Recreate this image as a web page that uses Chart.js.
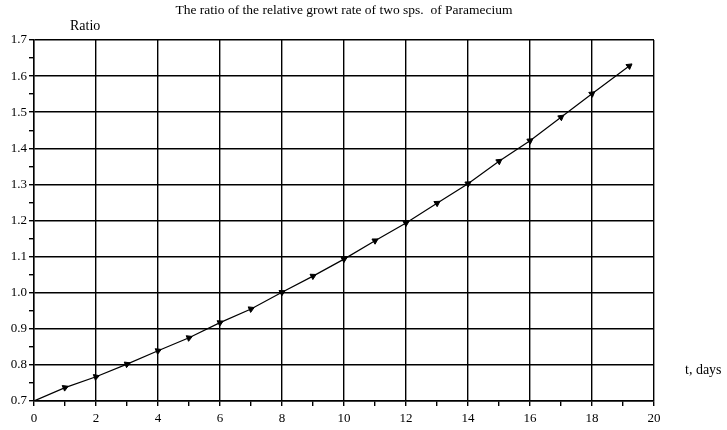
<!DOCTYPE html>
<html>
<head>
<meta charset="utf-8">
<script src="https://cdn.jsdelivr.net/npm/chart.js@4.4.1/dist/chart.umd.min.js"></script>
<style>
  html, body { margin:0; padding:0; background:#fff; }
  #wrap { width:727px; height:430px; position:relative; }
</style>
</head>
<body>
<div id="wrap"><canvas id="c" width="727" height="430"></canvas></div>
<script>
// data
const days = [0, 1, 2, 3, 4, 5, 6, 7, 8, 9, 10, 11, 12, 13, 14, 15, 16, 17, 18, 19.2];
const ratio = [0.700, 0.737, 0.767, 0.802, 0.839, 0.875, 0.917, 0.955, 1.001, 1.046,
               1.093, 1.144, 1.193, 1.248, 1.302, 1.364, 1.421, 1.486, 1.551, 1.628];
const xTicks = [0, 2, 4, 6, 8, 10, 12, 14, 16, 18, 20];
const yTicks = [0.7, 0.8, 0.9, 1.0, 1.1, 1.2, 1.3, 1.4, 1.5, 1.6, 1.7];

const chartTitle = 'The ratio of the relative growt rate of two sps.  of Paramecium';
const yLabel = 'Ratio';
const xLabel = 't, days';

const FONT = '"Liberation Serif", "DejaVu Serif", serif';

// texts around the plot
const labelsPlugin = {
    id: 'labels',
    afterDraw(chart) {
        const c = chart.ctx;
        c.save();
        c.fillStyle = '#000';
        c.font = '13.5px ' + FONT;
        c.textAlign = 'center';
        c.textBaseline = 'alphabetic';
        c.fillText(chartTitle, 344, 14);
        c.textAlign = 'left';
        c.font = '14px ' + FONT;
        c.fillText(yLabel, 70, 30);
        c.fillText(xLabel, 685, 374);
        c.restore();
    }
};

// arrow head direction from the previous point
function arrowAngle(ctx) {
    const i = ctx.dataIndex;
    const sx = ctx.chart.scales.x, sy = ctx.chart.scales.y;
    if (!sx || !sy || i === 0) return 0;
    const dx = sx.getPixelForValue(days[i]) - sx.getPixelForValue(days[i - 1]);
    const dy = sy.getPixelForValue(ratio[i]) - sy.getPixelForValue(ratio[i - 1]);
    return 90 + Math.atan2(dy, dx) * 180 / Math.PI;
}

const pts = days.map((d, i) => ({ x: d, y: ratio[i] }));

new Chart(document.getElementById('c'), {
    type: 'line',
    data: {
        datasets: [{
            data: pts,
            borderColor: '#000',
            borderWidth: 1.2,
            backgroundColor: '#000',
            pointStyle: 'triangle',
            pointRadius: ctx => ctx.dataIndex === 0 ? 0 : 3.5,
            pointRotation: arrowAngle,
            pointBorderWidth: 1,
            pointBorderColor: '#000',
            pointBackgroundColor: '#000',
            tension: 0
        }]
    },
    plugins: [labelsPlugin],
    options: {
        responsive: false,
        animation: false,
        devicePixelRatio: 1,
        layout: { padding: { top: 40, right: 73, left: 0, bottom: 0 } },
        plugins: {
            legend: { display: false },
            title: { display: false },
            tooltip: { enabled: false }
        },
        scales: {
            x: {
                type: 'linear',
                min: 0, max: 20,
                afterFit: s => { s.height = 29; },
                afterBuildTicks: s => {
                    s.ticks = [];
                    for (let v = 0; v <= 20; v++) s.ticks.push({ value: v });
                },
                ticks: {
                    color: '#000',
                    font: { family: FONT, size: 13 },
                    padding: 5,
                    maxRotation: 0,
                    autoSkip: false,
                    callback: v => xTicks.includes(v) ? String(v) : ''
                },
                grid: {
                    color: ctx => (ctx.tick && ctx.tick.value % 2 === 0) ? '#000' : 'rgba(0,0,0,0)',
                    tickColor: '#000',
                    lineWidth: 1.4,
                    tickLength: 5
                },
                border: { color: '#000', width: 1.4 }
            },
            y: {
                min: 0.7, max: 1.7,
                afterFit: s => { s.width = 34; },
                afterBuildTicks: s => {
                    s.ticks = [];
                    for (let k = 0; k <= 20; k++) s.ticks.push({ value: Math.round((0.7 + k * 0.05) * 100) / 100 });
                },
                ticks: {
                    color: '#000',
                    font: { family: FONT, size: 13 },
                    padding: 2,
                    autoSkip: false,
                    callback: v => {
                        const t = yTicks.find(y => Math.abs(y - v) < 1e-6);
                        return t !== undefined ? t.toFixed(1) : '';
                    }
                },
                grid: {
                    color: ctx => {
                        if (!ctx.tick) return 'rgba(0,0,0,0)';
                        return Math.round(ctx.tick.value * 100) % 10 === 0 ? '#000' : 'rgba(0,0,0,0)';
                    },
                    tickColor: '#000',
                    lineWidth: 1.4,
                    tickLength: 5
                },
                border: { color: '#000', width: 1.4 }
            }
        }
    }
});
</script>
</body>
</html>
